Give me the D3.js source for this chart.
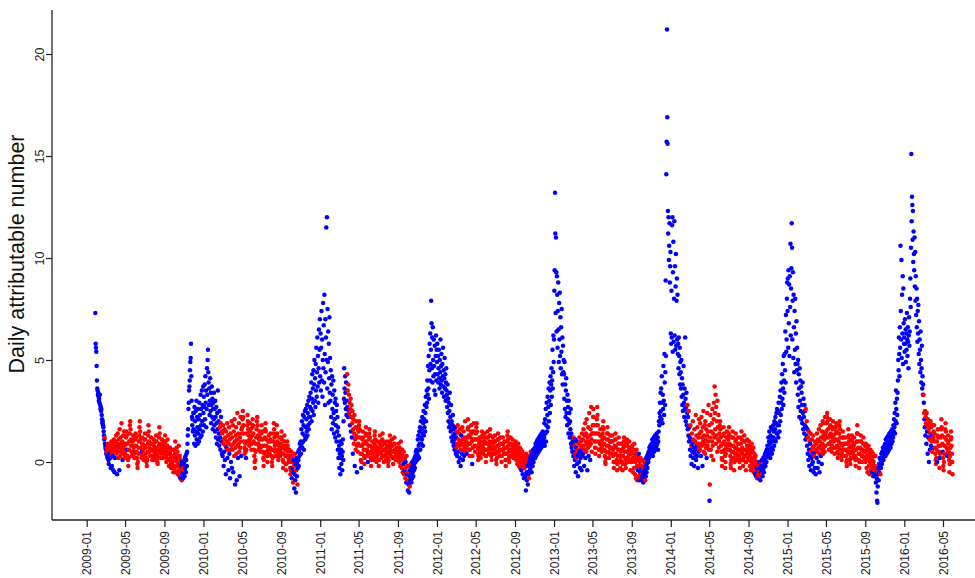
<!DOCTYPE html>
<html><head><meta charset="utf-8">
<script src="https://cdn.jsdelivr.net/npm/d3@7"></script>
<style>
html,body{margin:0;padding:0;background:#fff;}
svg{display:block;font-family:"Liberation Sans",Arial,Helvetica,sans-serif;}
</style></head><body>
<svg id="chart" width="975" height="578"></svg>
<script>
// Daily values, one line per month. Colour strings: b = blue, r = red ("12r" = 12 red days).
const start2009 = "2009-01-28";
const v2009 = [
7.3,5.8,5.6,5.4,
4.7,4.0,3.6,3.5,3.3,3.4,3.2,3.0,3.1,2.9,3.3,2.8,2.6,2.7,2.5,2.6,2.3,2.1,1.9,2.0,1.8,1.7,1.5,1.3,1.1,1.2,0.9,0.7,
0.8,0.6,0.4,0.5,0.7,0.3,0.2,0.9,0.6,0.1,-0.1,0.5,0.4,0.8,0.6,0.2,-0.3,0.7,1.0,0.4,-0.2,0.6,0.9,0.3,-0.4,0.5,1.1,0.7,-0.5,0.2,0.8,
1.0,0.6,1.3,0.4,0.8,-0.6,0.9,1.4,0.5,0.2,1.1,0.7,-0.4,1.6,0.8,0.3,1.2,0.9,0.5,1.9,0.6,1.0,0.1,0.7,1.3,0.4,0.9,1.5,0.2,0.8,
0.4,0.6,0.9,1.2,1.5,1.3,0.9,0.6,0.3,0.1,-0.2,0.2,0.6,1.0,1.4,1.8,2.0,1.6,1.1,0.8,0.5,0.3,0.5,0.8,1.0,1.3,1.1,0.7,0.4,0.2,0.5,
0.8,1.1,1.4,1.2,0.8,0.5,0.2,-0.1,-0.3,0.0,0.4,0.7,1.0,1.3,1.7,2.0,1.5,1.1,0.7,0.4,0.2,0.5,0.9,1.2,0.9,0.6,0.3,0.1,0.4,0.8,
1.1,1.4,1.1,0.7,0.4,0.2,0.0,-0.2,0.1,0.5,0.9,1.3,1.8,1.5,1.0,0.7,0.5,0.3,0.6,0.9,1.2,0.9,0.6,0.3,0.1,0.3,0.6,0.9,1.1,0.8,0.5,
0.3,0.1,0.4,0.7,1.0,1.3,1.0,0.6,0.3,0.0,-0.1,0.2,0.5,0.8,1.2,1.7,1.4,0.9,0.6,0.4,0.2,0.5,0.8,1.1,0.8,0.5,0.2,0.4,0.7,1.0,0.7,
0.5,0.9,1.3,1.0,0.6,0.3,0.0,0.2,0.5,0.8,1.1,0.7,0.4,0.1,-0.2,0.1,0.4,0.7,0.5,0.2,-0.1,-0.3,0.0,0.3,0.6,0.3,0.0,-0.3,-0.5,-0.2,
0.6,0.2,-0.3,0.4,1.0,0.1,-0.5,0.3,0.7,-0.2,0.0,0.5,-0.6,0.2,-0.4,0.8,-0.1,-0.7,0.3,-0.3,-0.8,0.1,-0.5,-0.2,-0.9,0.0,-0.6,-0.3,-0.8,-0.5,-0.1,
-0.4,0.0,-0.7,0.2,-0.3,0.3,-0.5,0.1,0.4,-0.2,0.5,0.9,1.3,1.6,2.6,2.9,3.5,3.7,4.0,4.5,4.9,5.1,5.8,4.2,3.0,2.2,1.8,2.1,1.5,2.4,
1.6,2.4,0.9,2.7,1.3,2.0,0.8,2.5,1.5,3.0,1.1,2.2,1.7,0.9,2.6,1.4,2.1,1.0,2.9,1.6,2.3,1.2,3.3,1.8,2.6,1.3,3.5,2.0,2.8,1.5,3.7
];
const c2009 = "4b | 25b rbr | bbbrrbbrrbbrbrrbbrrrbrrbbrrrbbr | 5r b 6r b 9r b 7r | 7r b 23r | 21r b 8r | 31r | 31r | 30r | 20r brrbrbbrbbb | r 29b | 31b";

const start2010 = "2010-01-01";
const v2010 = [
2.4,3.2,1.8,2.7,3.8,2.1,4.2,2.9,3.5,1.7,2.6,4.6,3.3,5.0,5.5,4.4,3.9,2.8,3.6,2.3,3.0,4.1,2.5,3.4,1.9,2.8,3.7,2.2,3.1,1.6,2.6,
2.9,2.1,3.4,1.8,2.6,1.5,3.0,2.2,1.2,2.7,1.9,0.9,2.4,1.6,3.5,1.1,2.0,1.4,0.8,2.5,1.7,1.2,0.6,1.9,2.2,1.0,1.5,0.4,
1.4,0.3,1.8,0.9,-0.2,1.1,0.5,1.6,0.1,1.2,0.8,-0.6,1.5,0.7,1.0,1.9,0.2,0.6,1.3,-0.4,0.9,1.7,0.4,1.1,-0.8,0.6,1.4,0.0,0.8,2.0,-0.3,
1.2,0.6,1.8,-0.5,0.9,1.5,0.3,2.1,1.0,-1.1,0.7,1.3,1.7,0.4,-0.9,1.1,2.4,0.8,0.2,1.4,0.9,1.9,0.5,-0.7,1.2,0.7,2.2,1.0,0.3,1.6,
1.4,1.7,2.1,2.5,2.2,1.8,1.4,1.0,0.7,0.4,0.6,0.9,0.5,0.2,0.6,1.0,1.4,1.8,2.3,2.0,1.6,1.3,1.0,0.8,1.1,1.5,1.9,1.6,1.2,0.9,0.6,
0.9,1.3,1.7,2.1,1.8,1.4,1.0,0.6,0.3,0.0,-0.3,0.1,0.5,0.9,1.2,1.6,2.0,2.2,1.8,1.3,0.9,0.6,0.8,1.1,1.5,1.2,0.8,0.5,0.7,1.1,
1.4,1.8,1.5,1.1,0.8,0.5,0.2,-0.2,0.1,0.4,0.8,1.2,1.6,1.9,1.5,1.1,0.8,0.5,0.3,0.0,0.3,0.6,1.0,1.3,1.0,0.7,0.4,0.7,1.1,1.4,1.0,
0.6,0.3,0.0,-0.2,0.2,0.6,1.0,1.4,1.9,1.6,1.2,0.8,0.5,0.3,0.6,0.9,1.3,1.8,1.4,1.0,0.6,0.3,0.1,0.4,0.8,1.2,0.9,0.6,0.3,0.5,0.9,
1.2,1.5,1.1,0.7,0.4,0.1,-0.3,0.0,0.4,0.8,1.3,1.0,0.6,0.3,-0.1,-0.4,-0.1,0.3,0.7,1.0,0.8,0.5,0.2,0.0,0.3,0.6,0.3,0.0,-0.3,-0.6,
0.2,-0.4,0.5,-0.8,0.0,-0.3,0.3,-1.0,-0.5,0.1,-0.2,-1.3,-0.6,0.4,-0.9,-0.1,-1.5,-0.4,0.2,-0.7,0.0,-1.1,-0.3,0.5,0.1,-0.2,0.6,0.3,0.9,0.4,0.7,
1.0,0.4,1.6,0.9,2.0,0.7,1.4,2.3,1.0,1.8,0.6,2.2,1.3,2.5,1.1,1.7,2.6,1.2,2.1,1.5,2.8,1.3,2.4,1.8,3.0,1.6,2.2,3.2,1.9,2.7,
2.2,3.4,2.6,3.9,2.0,3.1,4.3,2.5,3.6,2.9,4.5,2.3,3.8,5.0,3.0,4.1,2.7,4.8,3.5,5.6,3.2,4.4,6.1,3.7,5.2,2.9,4.6,6.5,3.9,5.5,7.0
];
const c2010 = "31b | 20b rbbrbbrb | rbrrbrbrbrrbrbrrbrrbrrbrbrrbrrb | rrrbrrrrrbrrrrbrrrbrrrrbrrrrbr | 13r b 17r | 30r | 31r | 31r | 30r | rrrbrbrrbbrbbrbbbrbbbr 9b | 30b | 31b";

const start2011 = "2011-01-01";
const v2011 = [
4.2,6.3,3.5,5.6,7.4,4.0,6.0,3.2,5.0,7.8,4.6,6.7,3.9,8.2,5.3,2.8,7.0,4.4,6.1,11.5,5.0,12.0,3.6,7.5,4.9,6.4,2.9,5.8,4.1,7.1,3.4,
5.1,3.0,4.5,2.2,3.8,1.6,4.2,2.6,3.3,1.9,4.0,2.4,1.4,3.5,2.1,2.9,1.2,3.1,1.8,2.5,1.0,2.8,1.5,2.2,0.6,1.7,0.2,1.3,
0.8,-0.3,0.4,1.0,-0.6,0.2,0.6,-0.1,0.9,0.3,-0.4,0.5,1.1,0.1,2.0,3.1,4.6,3.6,2.9,4.2,3.4,2.6,3.9,2.3,3.0,4.3,2.7,3.5,2.2,3.8,2.5,
3.3,2.4,2.9,1.8,2.6,3.1,1.5,2.2,2.8,1.2,1.9,2.5,0.4,1.6,2.1,0.9,1.4,2.3,-0.2,1.1,1.7,0.6,1.3,2.0,0.8,-0.5,1.2,0.5,1.6,0.9,
1.5,1.8,2.0,1.6,1.2,0.8,0.4,0.1,-0.3,0.0,0.4,0.8,1.1,1.5,1.2,0.9,0.6,0.3,-0.1,0.2,0.6,1.0,1.4,1.7,1.3,0.9,0.6,0.3,0.5,0.0,0.4,
0.8,1.1,1.4,1.6,1.2,0.8,0.5,0.2,-0.2,0.1,0.4,0.7,1.0,0.7,0.4,0.1,0.3,0.6,0.9,1.3,1.5,1.1,0.8,0.5,0.2,0.0,0.3,0.6,1.0,0.7,
0.4,0.1,-0.2,0.1,0.5,0.9,1.3,1.0,0.7,0.4,0.2,0.5,0.8,1.1,1.4,1.0,0.6,0.3,0.0,0.3,0.6,0.9,0.6,0.3,0.1,0.4,0.7,1.0,0.8,0.5,0.2,
0.0,-0.2,0.1,0.4,0.7,1.0,1.3,0.9,0.6,0.3,0.5,0.8,1.1,0.8,0.5,0.2,-0.1,0.2,0.5,0.9,1.2,0.9,0.6,0.3,0.1,0.4,0.7,0.4,0.1,0.3,0.6,
0.6,0.2,0.9,0.4,0.0,0.7,0.3,-0.2,0.5,1.0,0.1,0.4,-0.3,0.6,0.2,-0.5,0.3,-0.1,0.5,-0.6,0.1,-0.4,0.2,-0.8,0.0,-0.3,-1.0,0.3,-0.6,-0.2,
-0.9,-1.4,-0.5,-1.1,-0.2,-1.5,-0.7,-1.2,-0.4,-0.9,-0.1,-0.6,-1.0,-0.3,-0.8,0.0,-0.5,-0.2,-0.7,0.1,-0.4,-0.1,0.2,-0.3,0.3,0.0,0.5,0.2,0.6,0.4,0.1,
0.5,1.1,0.3,1.3,0.8,0.2,1.5,0.9,1.7,0.6,1.2,2.0,0.9,1.6,1.1,2.2,1.4,0.8,1.9,2.5,1.3,2.1,1.7,2.8,1.5,2.4,3.2,2.0,2.7,3.5,
2.9,4.0,3.3,4.7,3.6,5.2,3.1,4.5,5.8,4.0,6.3,4.8,5.5,7.9,6.8,4.6,6.1,3.9,6.6,5.0,4.2,6.0,4.7,3.5,5.7,4.3,3.3,5.2,6.2,4.0,5.5
];
const c2011 = "31b | 28b | 25b rbrbrb | rrrbrrbrrbrrbrrrrrbrrrrrrbrrrr | 8r b 20r b r | 30r | 31r | 31r | 17r brrrbrrbrbrbr | rbrbrbbrbbrbbbb 16b | 30b | 31b";

const start2012 = "2012-01-01";
const v2012 = [
4.9,5.8,4.3,5.2,3.9,4.6,5.5,4.1,3.6,5.0,4.4,6.0,3.8,4.7,5.3,4.0,3.4,4.8,4.2,5.6,3.7,4.5,3.2,4.1,5.1,3.6,4.3,3.0,3.9,4.6,3.5,
3.3,2.7,3.8,2.4,3.1,2.0,2.9,1.7,2.5,3.4,1.9,2.2,1.5,2.8,1.2,2.0,1.6,1.0,1.8,2.3,1.3,0.8,1.6,1.1,0.6,1.4,0.9,1.7,0.4,
1.2,0.7,1.5,0.3,0.9,1.8,0.5,1.1,0.0,1.4,0.8,0.2,1.6,1.0,-0.2,0.6,1.3,0.9,0.4,1.7,1.1,0.1,0.8,1.5,0.6,0.3,1.2,0.9,2.0,0.5,1.0,
0.7,1.0,0.4,0.8,1.2,1.6,2.1,1.7,1.3,0.9,0.6,0.3,0.6,0.9,1.2,1.5,1.8,1.4,1.0,-0.1,0.3,0.7,1.1,1.5,1.9,1.5,1.1,0.8,0.5,0.8,
1.1,1.4,1.7,1.9,1.5,1.1,0.7,0.4,0.1,0.3,0.6,0.9,1.2,1.0,0.7,0.4,0.2,0.5,0.8,1.2,1.5,1.3,1.0,0.7,0.4,0.6,0.9,1.2,1.4,1.0,0.6,
0.3,0.0,0.3,0.6,0.9,1.2,1.5,1.2,0.9,0.6,0.4,0.7,1.0,1.3,1.6,1.3,0.9,0.6,0.3,0.1,0.4,0.7,1.0,1.2,0.9,0.6,0.4,0.7,1.0,1.3,
1.0,0.7,0.4,0.1,-0.1,0.2,0.5,0.8,1.1,1.4,1.1,0.8,0.5,0.3,0.6,0.9,1.2,0.9,0.6,0.3,0.0,0.3,0.6,0.9,1.2,0.9,0.6,0.4,0.7,1.0,0.7,
0.4,0.1,-0.2,0.1,0.4,0.7,1.0,1.3,1.5,1.1,0.8,0.5,0.2,0.0,0.3,0.6,0.9,1.2,0.9,0.6,0.3,0.5,0.8,1.1,0.8,0.5,0.2,0.4,0.7,0.9,0.6,
0.7,0.3,1.0,0.5,0.1,0.8,0.4,-0.1,0.6,0.2,0.9,0.3,-0.2,0.5,0.1,0.7,-0.3,0.4,0.0,0.6,-0.4,0.2,-0.1,0.5,-0.6,0.1,-0.2,0.3,-0.8,0.0,
-0.3,0.2,-0.7,-0.1,-1.4,0.4,-0.5,-0.9,0.1,-0.2,-1.1,0.3,-0.6,-0.1,-0.8,0.0,-0.4,0.2,-0.3,0.5,-0.1,0.3,-0.5,0.1,0.4,-0.2,0.2,0.6,0.0,0.3,0.5,
0.4,0.7,0.2,0.9,0.5,0.3,0.8,1.0,0.6,0.4,1.1,0.7,0.9,0.5,1.2,0.8,1.0,0.6,1.3,0.9,1.1,0.7,1.4,1.0,1.2,0.8,1.5,1.1,1.3,0.9,
1.2,1.9,0.8,2.1,1.4,2.6,1.0,1.8,2.9,1.5,2.3,3.2,1.7,2.7,3.6,2.0,3.0,3.9,2.4,3.5,4.2,2.8,3.8,4.6,3.2,4.0,5.5,3.6,4.4,6.2,4.9
];
const c2012 = "31b | 29b | brrbrrbrbrrbrrbrbrbrrbrrrbrrrrr | 2r b 16r b 10r | 31r | 30r | 31r | 31r | 20r b 3r b 3r b r | rrbrbrbbrbbrbbrbbbbr 11b | 30b | 31b";

const start2013 = "2013-01-01";
const v2013 = [
6.0,8.4,9.4,13.2,11.2,7.3,11.0,9.3,6.4,9.1,8.2,5.6,7.4,8.8,6.5,4.9,7.8,6.0,8.3,5.2,7.1,4.6,6.6,5.4,7.5,4.3,6.1,3.8,5.7,4.4,5.0,
4.3,3.1,4.9,2.6,3.8,2.2,3.5,4.1,2.4,3.0,1.8,3.3,2.1,2.7,1.4,3.0,1.9,2.4,1.2,2.0,1.6,2.6,0.9,1.4,0.7,1.2,0.5,1.0,
0.9,0.3,1.2,0.5,-0.2,0.8,0.1,1.1,0.4,-0.5,0.7,0.2,1.0,-0.1,0.6,0.3,-0.7,0.9,0.4,0.0,1.2,0.5,-0.3,0.8,0.2,1.0,0.6,-0.4,1.4,0.3,0.7,
1.1,0.4,1.6,0.8,-0.2,1.3,0.6,1.9,0.2,1.0,1.4,0.5,2.1,0.9,-0.4,1.2,0.7,1.7,0.3,1.0,2.4,0.8,1.3,0.1,1.6,0.9,2.7,1.1,0.5,1.4,
1.4,1.8,2.2,2.6,2.2,1.8,1.4,1.0,0.7,0.4,0.7,1.0,1.4,1.8,2.1,2.7,2.3,1.8,1.4,1.0,0.6,0.3,0.6,0.9,1.3,1.6,1.3,1.0,0.7,0.5,0.8,
1.1,1.4,1.7,2.0,1.6,1.2,0.9,0.6,0.3,0.0,-0.1,0.2,0.5,0.8,1.1,1.4,1.7,1.4,1.1,0.8,0.5,0.2,0.4,0.7,1.0,1.3,1.0,0.7,0.4,0.7,
1.0,1.3,1.0,0.6,0.3,0.0,-0.3,0.0,0.4,0.8,1.1,1.4,1.1,0.7,0.4,0.1,-0.4,-0.1,0.3,0.6,0.9,1.2,0.9,0.6,0.3,0.0,-0.3,0.1,0.5,0.9,0.6,
0.3,0.0,-0.4,-0.1,0.3,0.7,1.0,1.2,0.8,0.5,0.2,-0.1,-0.3,0.1,0.5,0.9,1.1,0.8,0.5,0.2,0.0,0.3,0.6,1.0,0.7,0.4,0.1,-0.4,0.0,0.4,0.7,
0.5,0.0,0.8,0.2,-0.5,0.6,0.1,-0.3,0.9,0.3,-0.6,0.4,0.0,-0.8,0.2,0.6,-0.2,-0.9,0.3,-0.4,0.1,-0.7,0.4,-0.2,-0.9,0.0,-0.5,0.2,-0.8,-0.3,
-0.6,-0.9,-0.2,-0.7,0.1,-0.5,-1.0,-0.3,-0.8,0.0,-0.6,-0.4,-0.9,-0.2,-0.7,0.2,-0.5,-0.1,0.3,-0.3,0.1,0.4,0.0,0.5,0.2,0.7,0.3,0.6,0.8,0.4,0.5,
0.6,0.9,0.4,1.1,0.7,0.3,1.0,0.8,1.2,0.5,0.9,0.6,1.3,1.0,0.7,1.1,0.8,1.4,1.0,0.9,1.2,0.6,1.0,1.5,2.0,1.8,2.4,2.9,2.2,3.4,
2.5,3.6,2.1,4.2,2.9,1.9,3.3,2.6,4.7,3.0,2.3,5.3,3.9,2.8,4.4,8.9,5.2,14.1,15.7,21.2,16.9,15.6,12.3,11.2,12.0,9.9,10.6,11.7,8.8,9.6,10.3
];
const c2013 = "31b | 28b | bbrbbrbbrbbrbbrbbrbbrbbrbrbbrbr | rbrrbrrrbrrrrrbrrrbrrrrbrrrrrr | 31r | 30r | 31r | 31r | 19r brrbrbrbrrb | rbrbrbbrbrbbr 18b | 30b | 31b";

const start2014 = "2014-01-01";
const v2014 = [
6.3,5.8,8.4,6.1,11.6,12.0,5.4,9.3,10.8,5.9,8.0,11.8,6.2,9.6,5.5,8.6,10.2,5.7,7.9,9.0,6.0,8.2,5.3,5.8,4.6,6.1,5.2,4.3,5.6,3.8,4.9,
4.4,3.6,5.0,3.2,4.1,2.8,3.8,2.5,3.3,4.7,2.9,2.2,3.6,2.6,6.1,3.1,2.0,2.7,3.4,1.8,2.4,2.8,1.6,2.2,1.3,2.5,1.0,1.7,
1.2,0.6,1.8,0.3,1.1,0.8,-0.1,1.4,0.5,0.9,2.0,0.2,1.1,0.7,-0.2,1.6,0.4,1.0,0.6,2.3,0.1,1.3,0.8,0.3,1.7,0.9,-0.3,1.2,0.5,2.1,0.7,
1.4,0.6,1.9,0.9,0.3,1.5,2.2,0.8,1.2,-0.2,1.7,1.0,2.5,0.5,1.3,0.9,1.8,0.4,2.0,1.1,0.7,1.6,0.2,1.3,2.4,0.8,1.5,1.0,2.8,0.6,
1.8,-1.9,-1.1,1.2,2.3,0.6,1.5,0.3,1.9,1.0,2.6,0.8,1.4,0.1,2.1,2.9,1.2,3.7,2.4,1.6,3.3,0.9,2.7,1.3,2.0,0.5,3.0,1.7,1.1,2.3,0.7,
1.0,1.4,1.8,2.0,1.6,1.2,0.8,0.5,0.2,-0.2,0.1,0.5,0.9,1.3,1.7,1.4,1.0,0.6,0.3,-0.3,0.0,0.4,0.8,1.2,1.5,1.2,0.9,0.6,0.8,1.1,
1.4,1.7,1.3,0.9,0.6,0.3,-0.1,-0.3,0.1,0.5,0.8,1.2,1.5,1.2,0.8,0.5,0.2,-0.4,0.0,0.4,0.7,1.0,1.4,1.1,0.7,0.4,0.1,0.3,0.6,0.9,1.2,
0.9,0.6,0.3,0.0,-0.3,0.1,0.5,0.9,1.2,1.5,1.1,0.7,0.4,0.1,-0.2,0.2,0.6,1.0,1.3,1.0,0.6,0.3,0.0,-0.4,0.0,0.4,0.8,1.1,0.8,0.5,0.2,
0.6,0.1,1.0,0.3,-0.2,0.8,0.4,-0.4,0.6,0.0,0.9,0.2,-0.3,0.5,-0.1,0.7,0.2,-0.5,0.4,-0.2,0.1,-0.6,0.3,-0.4,-0.7,0.0,-0.3,-0.8,-0.5,-0.1,
-0.6,-0.2,-0.8,-0.4,0.0,-0.7,-0.3,-0.9,-0.1,-0.5,-0.2,-0.6,0.1,-0.4,-0.7,-0.2,0.2,-0.3,-0.5,0.0,0.3,-0.1,0.4,-0.2,0.2,0.5,0.0,0.6,0.3,0.8,0.4,
0.6,1.2,0.3,1.0,1.5,0.5,0.9,0.2,1.3,1.7,0.7,1.1,0.4,1.6,1.0,0.6,1.8,1.2,1.5,0.8,2.0,1.1,1.6,2.2,1.0,1.9,2.4,1.4,2.6,1.8,
1.4,2.5,1.2,2.9,1.8,2.4,1.5,3.2,2.0,3.5,2.3,2.9,3.9,2.6,4.3,3.1,4.8,3.6,2.8,5.2,4.0,3.4,5.3,4.5,6.4,3.9,7.2,5.4,6.0,8.0,8.8
];
const c2014 = "31b | 21b rbbbrbb | bbrbbrbrbbrbrbbrbrbrbrbbrrbrbrr | 4r b 4r b 12r b 7r | r b 29r | 30r | 31r | 31r | 21r brrbrbrbr | rrbrbrbbrbbr 19b | 30b | 31b";

const start2015 = "2015-01-01";
const v2015 = [
7.4,9.0,5.6,9.4,6.8,8.7,5.2,9.1,7.6,10.7,6.2,8.5,9.5,11.7,10.5,6.0,7.9,9.3,5.1,8.2,6.6,4.4,7.4,5.5,8.0,4.8,6.3,3.9,6.9,4.5,5.6,
4.8,3.3,5.0,2.7,4.3,3.6,2.2,4.6,3.0,4.0,2.5,3.7,2.1,3.4,2.8,1.9,3.9,2.4,1.6,3.1,2.2,1.4,2.8,1.8,2.5,1.1,2.6,1.7,
1.3,2.0,0.8,1.6,0.4,1.2,0.1,1.5,0.6,-0.2,1.0,0.3,0.9,1.4,-0.4,0.5,0.2,1.1,-0.1,0.7,0.0,1.3,0.4,-0.5,0.8,0.3,-0.3,1.0,0.5,-0.6,0.6,
0.9,0.2,1.4,0.5,-0.3,1.1,0.7,0.0,1.6,0.4,-0.5,1.0,0.8,1.8,0.3,1.2,0.6,-0.1,1.5,0.9,2.0,0.4,1.3,0.7,1.9,1.1,0.5,2.2,1.4,0.8,
1.2,1.5,1.9,2.2,2.4,2.0,1.6,1.2,0.9,0.6,0.9,1.3,1.7,2.1,1.8,1.4,1.0,0.7,0.5,0.8,1.2,1.6,2.0,1.7,1.3,1.0,0.7,0.4,0.7,1.1,1.4,
1.7,1.9,1.5,1.1,0.8,0.5,0.2,0.4,0.7,1.0,1.4,1.8,2.0,1.6,1.2,0.9,0.6,0.3,0.1,0.4,0.8,1.2,1.5,1.2,0.9,0.6,0.3,0.6,0.9,1.2,
0.9,0.6,0.3,0.0,-0.2,0.1,0.5,0.9,1.2,1.6,1.3,1.0,0.7,0.4,0.1,-0.1,0.2,0.5,0.8,1.1,1.3,1.0,0.7,0.4,0.2,0.5,0.8,1.2,0.9,0.6,0.3,
0.1,-0.2,0.2,0.6,1.0,1.4,1.8,1.4,1.0,0.7,0.4,0.1,-0.3,0.0,0.4,0.7,1.0,1.3,1.0,0.6,0.3,0.0,0.3,0.6,0.9,1.2,0.9,0.5,0.2,0.5,0.8,
0.5,0.0,0.9,0.3,-0.3,0.7,0.2,-0.5,0.6,0.1,0.8,-0.2,0.4,-0.6,0.3,0.0,0.6,-0.4,0.2,-0.1,0.5,-0.5,0.1,-0.3,0.4,-0.7,0.0,-0.2,0.3,-0.4,
-0.2,-0.6,0.3,-1.0,-0.4,-1.5,-0.8,-1.9,-2.0,-1.2,-0.6,-0.3,-0.9,-0.1,-0.5,0.2,-0.2,-0.6,0.1,-0.3,0.4,0.0,-0.1,0.5,0.2,0.7,0.3,0.1,0.6,0.4,0.8,
0.5,0.9,0.3,1.1,0.6,0.8,0.4,1.2,0.7,1.0,0.5,1.3,0.9,0.6,1.4,1.0,0.8,1.2,0.7,1.5,1.1,0.9,1.3,1.6,1.0,1.4,1.2,1.8,1.5,2.1,
1.7,2.4,1.4,2.9,2.0,3.5,2.6,1.9,3.1,2.3,3.4,4.0,5.0,4.5,6.1,5.3,4.2,6.6,5.6,10.6,7.4,6.0,9.9,5.1,8.2,6.3,9.1,4.8,8.5,6.8,5.8
];
const c2015 = "31b | 26b rb | brbbbrbrbbrbbrbrbrbrbrbbrrbrbbr | rbrrbrrbrrbrrrbrrb 12r | 31r | 30r | 31r | 31r | 21r b 3r b 4r | rbrbr 12b r 13b | 30b | 31b";

const start2016 = "2016-01-01";
const v2016 = [
6.1,5.4,7.0,5.8,6.5,4.9,6.3,5.5,7.3,6.0,5.2,6.6,5.9,4.6,6.2,7.1,5.7,6.4,8.0,9.0,7.6,10.5,15.1,11.8,13.0,12.6,10.9,12.3,9.8,11.3,10.2,
9.4,11.0,8.6,10.3,7.9,9.1,7.2,8.5,6.6,8.0,5.9,7.4,6.3,7.7,5.3,6.9,4.8,6.0,5.5,4.4,6.4,5.0,3.9,4.6,5.7,3.6,4.2,3.3,3.8,
3.3,2.9,2.4,2.1,1.7,2.5,1.3,2.2,1.9,0.9,2.4,1.5,1.8,0.4,2.1,1.2,1.6,0.0,1.9,1.1,0.6,1.4,2.0,0.8,1.7,1.0,1.3,0.5,1.8,1.1,0.7,
1.2,1.5,1.8,1.4,1.0,0.7,0.4,0.1,-0.1,0.2,0.6,1.0,0.0,1.3,1.6,1.2,0.8,0.5,0.2,-0.3,0.2,0.4,0.8,1.2,1.6,2.1,1.7,1.3,0.9,0.5,
0.2,-0.2,-0.4,0.0,0.4,0.8,1.2,1.6,1.9,1.5,1.1,0.7,0.4,0.3,0.6,1.0,1.3,0.9,0.5,0.1,-0.5,-0.1,0.3,0.7,1.1,1.5,1.2,0.8,0.4,0.0,-0.6
];
const c2016 = "31b | 29b | rbrbbrbrrbrbrbrbrbrrbrrbrrbrrrb | 12r b 7r b 8r b | 13r b 17r";

const xTickLabels = ["2009-01","2009-05","2009-09","2010-01","2010-05","2010-09","2011-01","2011-05","2011-09",
  "2012-01","2012-05","2012-09","2013-01","2013-05","2013-09","2014-01","2014-05","2014-09","2015-01","2015-05",
  "2015-09","2016-01","2016-05"];
const yTicks = [0, 5, 10, 15, 20];
const yLabel = "Daily attributable number";

const seasons = [
  [start2009, v2009, c2009], [start2010, v2010, c2010], [start2011, v2011, c2011], [start2012, v2012, c2012],
  [start2013, v2013, c2013], [start2014, v2014, c2014], [start2015, v2015, c2015], [start2016, v2016, c2016]
];
const colourOf = {b: "#0000ff", r: "#ff0000"};

function expand(s) {
  return s.split(/[\s|]+/).filter(Boolean).map(t => {
    const m = t.match(/^(\d+)([br])$/);
    return m ? m[2].repeat(+m[1]) : t;
  }).join("");
}
const parseDay = d3.utcParse("%Y-%m-%d");
const parseMonth = d3.utcParse("%Y-%m");

const points = [];
seasons.forEach(([st, vals, cols]) => {
  const c = expand(cols);
  if (c.length !== vals.length) console.warn("length mismatch", st, c.length, vals.length);
  const t0 = parseDay(st);
  vals.forEach((v, i) => points.push({date: d3.utcDay.offset(t0, i), value: v, col: c[i] || "b"}));
});

const svg = d3.select("#chart");
const x = d3.scaleUtc().domain([parseMonth("2009-01"), parseMonth("2016-01")]).range([86.7, 904.3]);
const y = d3.scaleLinear().domain([0, 20]).range([462, 54]);
const plotLeft = 52, plotRight = 975, plotTop = 10, plotBottom = 520;

// points
svg.append("g").selectAll("circle").data(points).join("circle")
  .attr("cx", d => x(d.date)).attr("cy", d => y(d.value)).attr("r", 2.25)
  .attr("fill", d => colourOf[d.col]);

// x axis
const xAxis = svg.append("g").attr("transform", `translate(0,${plotBottom})`)
  .call(d3.axisBottom(x).tickValues(xTickLabels.map(parseMonth)).tickFormat(d3.utcFormat("%Y-%m")).tickSize(7).tickSizeOuter(0));
xAxis.select(".domain").remove();
xAxis.selectAll(".tick line").attr("stroke", "#222").attr("stroke-width", 1.2);
xAxis.selectAll(".tick text")
  .attr("transform", "rotate(-90)").attr("text-anchor", "end")
  .attr("x", -11).attr("y", 0).attr("dy", "0.35em")
  .attr("font-size", 12).attr("fill", "#222").attr("font-family", null);
svg.append("line").attr("x1", plotLeft).attr("x2", plotRight).attr("y1", plotBottom).attr("y2", plotBottom)
  .attr("stroke", "#222").attr("stroke-width", 1.3);

// y axis
const yAxis = svg.append("g").attr("transform", `translate(${plotLeft},0)`)
  .call(d3.axisLeft(y).tickValues(yTicks).tickSize(6).tickSizeOuter(0));
yAxis.select(".domain").remove();
yAxis.selectAll(".tick line").attr("stroke", "#222").attr("stroke-width", 1.2);
yAxis.selectAll(".tick text")
  .attr("transform", "rotate(-90)").attr("text-anchor", "middle")
  .attr("x", 0).attr("y", -8).attr("dy", 0)
  .attr("font-size", 12.5).attr("fill", "#222").attr("font-family", null);
svg.append("line").attr("x1", plotLeft).attr("x2", plotLeft).attr("y1", plotTop).attr("y2", plotBottom)
  .attr("stroke", "#222").attr("stroke-width", 1.3);

// y label
svg.append("text").attr("transform", `translate(24,254) rotate(-90)`)
  .attr("text-anchor", "middle").attr("font-size", 21.5).attr("fill", "#111").text(yLabel);
</script>
</body></html>
